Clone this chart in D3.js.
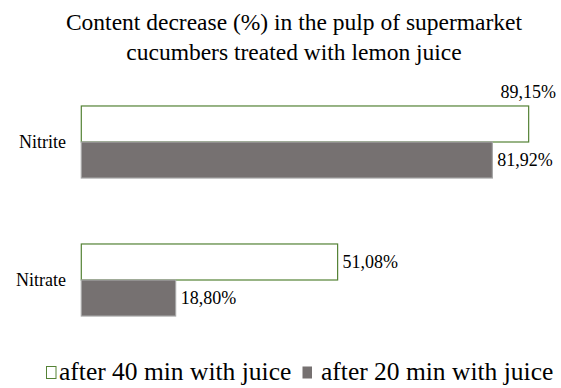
<!DOCTYPE html>
<html>
<head>
<meta charset="utf-8">
<script src="https://cdn.jsdelivr.net/npm/d3@7"></script>
<style>
  html, body { margin: 0; padding: 0; background: #fff; }
</style>
</head>
<body>
<svg id="chart" width="561" height="388"></svg>
<script>
// Chart data
const titleLines = ["Content decrease (%) in the pulp of supermarket", "cucumbers treated with lemon juice"];
const categories = ["Nitrite", "Nitrate"];
const seriesNames = ["after 40 min with juice", "after 20 min with juice"];
const after40 = [89.15, 51.08];
const after20 = [81.92, 18.80];
const seriesValues = [after40, after20];

const FONT = "'Liberation Serif', 'Times New Roman', Tinos, 'DejaVu Serif', serif";
const fmt = v => v.toFixed(2).replace(".", ",") + "%";

const svg = d3.select("#chart").attr("font-family", FONT);

// Title
svg.append("text")
  .attr("text-anchor", "middle")
  .attr("font-size", 23.5)
  .attr("fill", "#000")
  .selectAll("tspan")
  .data(titleLines)
  .join("tspan")
  .attr("x", 294)
  .attr("y", (d, i) => 30 + i * 30)
  .text(d => d);

// Scales
const x = d3.scaleLinear().domain([0, 100]).range([81.3, 583.1]);
const y = d3.scaleBand().domain(categories).range([73, 349]).paddingInner(0.478).paddingOuter(0.239);
const ySub = d3.scaleBand().domain(d3.range(seriesNames.length)).range([0, y.bandwidth()]);

const fills = ["#ffffff", "#767171"];
const strokes = ["#548235", "#a6a6a6"];

// Category axis labels
svg.append("g")
  .selectAll("text")
  .data(categories)
  .join("text")
  .attr("x", 66)
  .attr("y", d => y(d) + y.bandwidth() / 2)
  .attr("dy", "0.35em")
  .attr("text-anchor", "end")
  .attr("font-size", 18)
  .text(d => d);

// Bars, one group per category
const rows = categories.map((c, ci) => seriesValues.map((vals, si) => ({ cat: c, si, v: vals[ci] })));
const groups = svg.append("g")
  .selectAll("g")
  .data(rows)
  .join("g")
  .attr("transform", d => `translate(0,${y(d[0].cat)})`);

groups.selectAll("rect")
  .data(d => d)
  .join("rect")
  .attr("x", x(0))
  .attr("y", d => ySub(d.si))
  .attr("width", d => x(d.v) - x(0))
  .attr("height", ySub.bandwidth())
  .attr("fill", d => fills[d.si])
  .attr("stroke", d => strokes[d.si])
  .attr("stroke-width", 1.2);

// Value labels: outside the bar end, or above it where the bar reaches the edge
groups.selectAll("text")
  .data(d => d)
  .join("text")
  .attr("font-size", 18)
  .each(function (d) {
    const t = d3.select(this).text(fmt(d.v));
    const end = x(d.v);
    if (end + 60 > 561) {
      t.attr("x", 556).attr("y", ySub(d.si) - 8).attr("text-anchor", "end");
    } else {
      t.attr("x", end + 5).attr("y", ySub(d.si) + ySub.bandwidth() / 2).attr("dy", "0.35em");
    }
  });

// Legend
const legend = svg.append("g").attr("transform", "translate(0,380)");
const legendX = [46, 302];
const items = legend.selectAll("g")
  .data(seriesNames)
  .join("g")
  .attr("transform", (d, i) => `translate(${legendX[i]},0)`);
items.append("rect")
  .attr("x", 0.5)
  .attr("y", -13.5)
  .attr("width", 9.5)
  .attr("height", 12)
  .attr("fill", (d, i) => fills[i])
  .attr("stroke", (d, i) => i === 0 ? strokes[0] : "none");
items.append("text")
  .attr("x", (d, i) => i === 0 ? 13 : 19)
  .attr("y", 0)
  .attr("font-size", 25.5)
  .text(d => d);
</script>
</body>
</html>
